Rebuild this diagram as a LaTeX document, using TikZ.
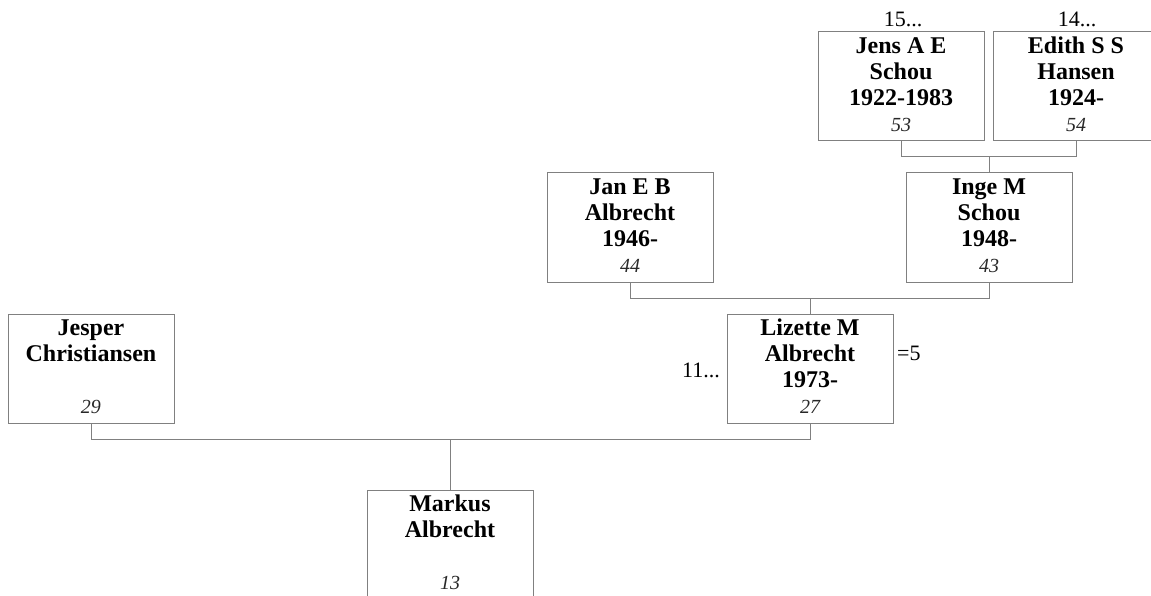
\documentclass[tikz,border=0pt]{standalone}
\usepackage{fontspec}
\setmainfont{Liberation Serif}
\definecolor{linegray}{RGB}{128,128,128}
\definecolor{numgray}{RGB}{40,40,40}
\newcommand{\namefont}{\fontsize{24}{25.8}\selectfont\bfseries}
\newcommand{\numfont}{\fontsize{20}{22}\selectfont\mdseries\itshape\color{numgray}}
\newcommand{\person}[2]{\begin{minipage}[t][109pt][t]{166pt}\centering\namefont\rule{0pt}{21.5pt}#1\par\vfill\numfont #2\rule[-9.5pt]{0pt}{9.5pt}\par\end{minipage}}
\begin{document}
\begin{tikzpicture}[x=1pt,y=-1pt,
  box/.style={draw=linegray, line width=1pt, inner sep=0pt, outer sep=0pt, fill=white},
  conn/.style={draw=linegray, line width=1pt},
  side/.style={font=\fontsize{22}{24}\selectfont, inner sep=0pt}]
\useasboundingbox (0,0) rectangle (1151,596);
% boxes
\node[box] (jens)    at (901,86.5)   {\person{Jens A E\\Schou\\1922-1983}{53}};
\node[box] (edith)   at (1076,86.5)  {\person{Edith S S\\Hansen\\1924-}{54}};
\node[box] (jan)     at (630,227.5)  {\person{Jan E B\\Albrecht\\1946-}{44}};
\node[box] (inge)    at (989,227.5)  {\person{Inge M\\Schou\\1948-}{43}};
\node[box] (jesper)  at (91,368.5)   {\person{Jesper\\Christiansen}{29}};
\node[box] (lizette) at (810,368.5)  {\person{Lizette M\\Albrecht\\1973-}{27}};
\node[box] (markus)  at (450,544.5)  {\person{Markus\\Albrecht}{13}};
% side labels
\node[side, anchor=base] (jensmore) at (903,27) {15...};
\node[side, anchor=base] (edithmore) at (1077,27) {14...};
\node[side, anchor=base east] (lizmore) at (720,377) {11...};
\node[side, anchor=base west] (lizeq) at (897,360) {=5};
% connectors
\draw[conn] (jens.south) -- ++(0,16) -| (edith.south);
\draw[conn] (inge.north) -- ++(0,-17);
\draw[conn] (jan.south) -- ++(0,16) -| (inge.south);
\draw[conn] (lizette.north) -- ++(0,-16);
\draw[conn] (jesper.south) -- ++(0,16) -| (lizette.south);
\draw[conn] (markus.north) -- ++(0,-51);
\end{tikzpicture}
\end{document}
